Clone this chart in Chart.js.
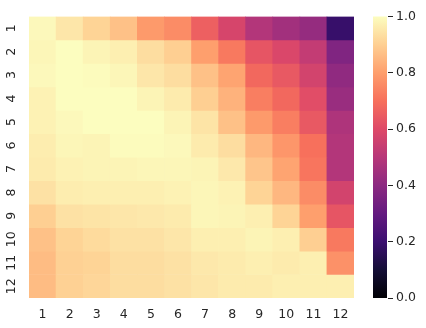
<!DOCTYPE html>
<html>
<head>
<meta charset="utf-8">
<script src="https://cdn.jsdelivr.net/npm/chart.js@4"></script>
<style>
  html, body { margin: 0; padding: 0; background: #fff; }
  #wrap { width: 426px; height: 328px; }
</style>
</head>
<body>
<div id="wrap"><canvas id="heat"></canvas></div>
<script>
// axis labels
const colLabels = ['1', '2', '3', '4', '5', '6', '7', '8', '9', '10', '11', '12']
const rowLabels = ['1', '2', '3', '4', '5', '6', '7', '8', '9', '10', '11', '12']

// cell values, one array per row
const row1 = [0.99, 0.95, 0.91, 0.87, 0.79, 0.76, 0.66, 0.58, 0.49, 0.45, 0.42, 0.19]
const row2 = [0.985, 1.0, 0.98, 0.97, 0.93, 0.90, 0.80, 0.72, 0.63, 0.59, 0.53, 0.37]
const row3 = [0.99, 1.0, 0.995, 0.985, 0.95, 0.93, 0.87, 0.81, 0.68, 0.64, 0.57, 0.41]
const row4 = [0.975, 1.0, 1.0, 1.0, 0.98, 0.96, 0.90, 0.84, 0.73, 0.68, 0.61, 0.43]
const row5 = [0.975, 0.99, 1.0, 1.0, 1.0, 0.98, 0.945, 0.87, 0.79, 0.73, 0.64, 0.48]
const row6 = [0.965, 0.985, 0.98, 0.995, 0.995, 0.99, 0.96, 0.93, 0.85, 0.78, 0.70, 0.49]
const row7 = [0.96, 0.975, 0.98, 0.98, 0.985, 0.985, 0.98, 0.955, 0.88, 0.81, 0.71, 0.49]
const row8 = [0.94, 0.965, 0.97, 0.97, 0.97, 0.975, 0.985, 0.975, 0.91, 0.85, 0.76, 0.57]
const row9 = [0.90, 0.94, 0.945, 0.95, 0.955, 0.96, 0.985, 0.98, 0.97, 0.91, 0.80, 0.63]
const row10 = [0.87, 0.91, 0.925, 0.94, 0.94, 0.95, 0.97, 0.97, 0.98, 0.97, 0.90, 0.72]
const row11 = [0.86, 0.905, 0.91, 0.93, 0.93, 0.94, 0.955, 0.96, 0.97, 0.96, 0.97, 0.77]
const row12 = [0.86, 0.905, 0.915, 0.93, 0.93, 0.94, 0.95, 0.96, 0.96, 0.97, 0.97, 0.97]
const values = [row1, row2, row3, row4, row5, row6, row7, row8, row9, row10, row11, row12]

// colour bar ticks
const barTicks = [0, 0.2, 0.4, 0.6, 0.8, 1.0]

// magma colormap stops
const magmaStops = ['#000004', '#140e36', '#3b0f70', '#641a80', '#8c2981', '#b73779',
  '#de4968', '#f7705c', '#fe9f6d', '#fecf92', '#fcfdbf']

function hexToRgb (h) {
  return [1, 3, 5].map(i => parseInt(h.slice(i, i + 2), 16))
}

function magma (v) {
  v = Math.max(0, Math.min(1, v))
  const pos = v * (magmaStops.length - 1)
  const i = Math.min(Math.floor(pos), magmaStops.length - 2)
  const t = pos - i
  const a = hexToRgb(magmaStops[i])
  const b = hexToRgb(magmaStops[i + 1])
  const c = a.map((x, k) => Math.round(x + (b[k] - x) * t))
  return 'rgb(' + c.join(',') + ')'
}

const textColor = '#262626'
const font = { family: 'DejaVu Sans', size: 12.5 }

// draws the colour bar next to the heatmap, using the bar scale for its ends
const colorBar = {
  id: 'colorBar',
  afterDraw (chart) {
    const gap = chart.scales.gap
    const bar = chart.scales.bar
    const top = bar.getPixelForValue(1)
    const bottom = bar.getPixelForValue(0)
    const left = gap.left + 19
    const right = gap.right - 1
    const ctx = chart.ctx
    const grad = ctx.createLinearGradient(0, bottom, 0, top)
    magmaStops.forEach((c, i) => grad.addColorStop(i / (magmaStops.length - 1), c))
    ctx.save()
    ctx.fillStyle = grad
    ctx.fillRect(left, top, right - left, bottom - top)
    ctx.restore()
  }
}

const ctx = document.getElementById('heat')

new Chart(ctx, {
  type: 'bar',
  data: {
    labels: colLabels,
    datasets: rowLabels.map((r, i) => ({
      label: r,
      data: colLabels.map(() => 1), // each row is one unit tall
      backgroundColor: values[i].map(magma),
      borderWidth: 0,
      categoryPercentage: 1,
      barPercentage: 1,
      yAxisID: 'y'
    }))
  },
  options: {
    responsive: true,
    maintainAspectRatio: false,
    animation: false,
    layout: { padding: { top: 12, left: 0, right: 0, bottom: 0 } },
    plugins: {
      legend: { display: false },
      tooltip: { enabled: false }
    },
    scales: {
      x: {
        stacked: true,
        grid: { display: false, drawTicks: false },
        border: { display: false },
        ticks: { color: textColor, font: font, padding: 9, maxRotation: 0 },
        afterFit: s => { s.height = 30 }
      },
      y: {
        type: 'linear',
        stacked: true,
        reverse: true,
        min: 0,
        max: 12,
        grid: { display: false, drawTicks: false },
        border: { display: false },
        afterBuildTicks: s => { s.ticks = rowLabels.map((r, i) => ({ value: i + 0.5 })) },
        ticks: {
          color: textColor,
          font: font,
          padding: 9,
          minRotation: 90,
          maxRotation: 90,
          crossAlign: 'center',
          callback: (v, i) => rowLabels[i]
        },
        afterFit: s => { s.width = 29 }
      },
      gap: {
        type: 'linear',
        position: 'right',
        display: true,
        weight: 0,
        min: 0,
        max: 1,
        grid: { display: false },
        border: { display: false },
        ticks: { display: false },
        afterFit: s => { s.width = 34 }
      },
      bar: {
        type: 'linear',
        position: 'right',
        display: true,
        weight: 1,
        min: 0,
        max: 1,
        afterBuildTicks: s => { s.ticks = barTicks.map(v => ({ value: v })) },
        grid: { display: true, drawOnChartArea: false, drawTicks: true, tickLength: 5, color: textColor },
        border: { display: false },
        ticks: { color: textColor, font: font, padding: 3, callback: v => v.toFixed(1) },
        afterFit: s => { s.width = 38 }
      }
    }
  },
  plugins: [colorBar]
})
</script>
</body>
</html>
